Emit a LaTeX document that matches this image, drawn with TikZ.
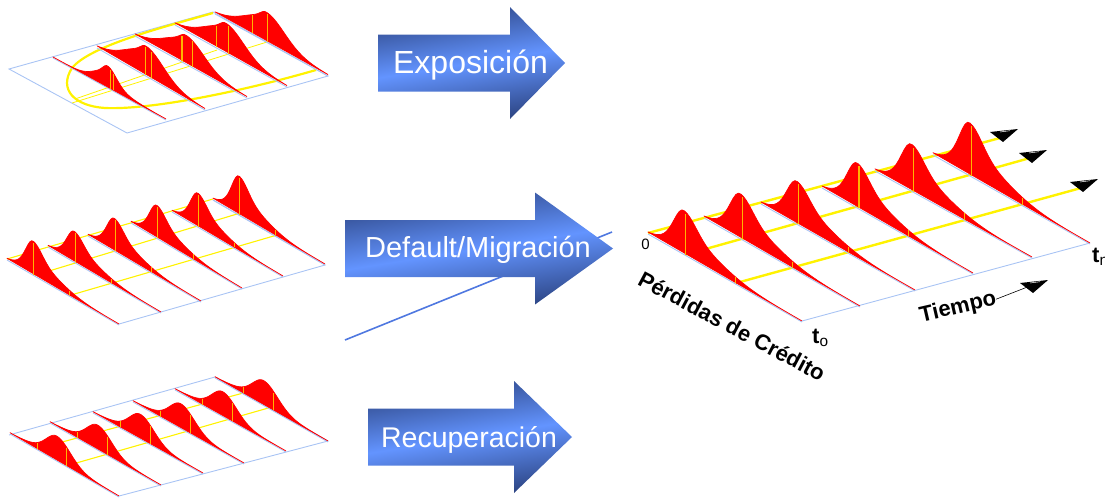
\documentclass[tikz,border=0pt]{standalone}
\usepackage{fontspec}
\setmainfont{Liberation Sans}
\usetikzlibrary{calc}

\definecolor{framecol}{HTML}{A9C4F4}
\definecolor{markcol}{HTML}{FFB400}
\definecolor{arrowdark}{HTML}{2C4482}
\definecolor{arrowlight}{HTML}{6394FF}
\definecolor{slashcol}{HTML}{4F78E0}

\tikzset
    { declare function=
        { gauss(\p,\m,\w)=exp(0-((\p-\m)/\w)*((\p-\m)/\w));
          narrowprof(\p)=(\p<0.23)*(0.65*gauss(\p,0.23,0.08)+0.35*gauss(\p,0.23,0.14))
                        +(\p>=0.23)*(0.5*gauss(\p,0.23,0.11)+0.5*gauss(\p,0.23,0.3));
          wideprof(\p)=(\p<0.45)*(0.2*gauss(\p,0.45,0.06)+0.8*gauss(\p,0.45,0.26))
                      +(\p>=0.45)*(0.8*gauss(\p,0.45,0.22)+0.2*gauss(\p,0.45,0.34));
          smallprof(\p)=(\p<0.48)*(0.3*gauss(\p,0.48,0.05)+0.7*gauss(\p,0.48,0.16))
                       +(\p>=0.48)*(0.8*gauss(\p,0.48,0.11)+0.2*gauss(\p,0.48,0.24));
          broadprof(\p)=(\p<0.43)*(0.75*gauss(\p,0.43,0.13)+0.25*gauss(\p,0.43,0.25))
                       +(\p>=0.43)*(0.9*gauss(\p,0.43,0.17)+0.1*gauss(\p,0.43,0.3));
        }
    , framelink/.style={draw=framecol, line width=0.9pt}
    , humpfill/.style={fill=red, draw=red, line width=0.7pt, line join=round}
    , humpmark/.style={draw=markcol, line width=1.1pt}
    , yellowlink/.style={draw=yellow, line width=1.1pt}
    , flowshade/.style={top color=arrowdark, bottom color=arrowdark, middle color=arrowlight, shading angle=9}
    , flowtext/.style={text=white, font=\fontsize{#1}{#1}\selectfont, inner sep=0pt, anchor=base}
    , axistext/.style={font=\bfseries\fontsize{22}{22}\selectfont, inner sep=0pt}
    }

% profile, start, end, height
\newcommand{\hump}[4]{%
    \draw[framelink] ([yshift=-1pt]#2) -- ([yshift=-1pt]#3);
    \filldraw[humpfill] let \p1=(#2), \p2=(#3) in
        plot[variable=\q, domain=0:1, samples=60]
        ({\x1+(\x2-\x1)*\q},{\y1+(\y2-\y1)*\q+#4*#1(\q)*1pt}) -- cycle;
}
% profile, start, end, height, position along the base
\newcommand{\humptick}[5]{%
    \draw[humpmark] ($(#2)!#5!(#3)$) -- ++(0,{-0.96*#4*#1(#5)});
}
% name, left end, neck, tip, middle height, text baseline, text, font size
\newcommand{\flowarrow}[8]{%
    \shade[flowshade] (#2,#5-28.5) -- (#3,#5-28.5) -- (#3,#5-56) -- (#4,#5)
        -- (#3,#5+56) -- (#3,#5+28.5) -- (#2,#5+28.5) -- cycle;
    \node[flowtext=#8] (#1) at ({(#2+#4)/2-1},#6) {#7};
}
% black head standing on a named point
\newcommand{\blackhead}[1]{%
    \fill[black] (#1) -- ++(-13,-10) -- ++(28,-3) -- cycle;
    \draw[white, line width=0.5pt] ($(#1)+(-3,-10)$) -- ++(10,-1.3);
}

\begin{document}
\begin{tikzpicture}
    [ x=1pt
    , y=-1pt
    ]
\useasboundingbox (0,0) rectangle (1105,498);

% upper left
\foreach \sx/\sy/\ex/\ey [count=\i] in
    {53/57/166/119, 97/47/205/109, 135/35/247/97, 175/24/287/86, 215/13/328/75}
{
    \coordinate (top\i s) at (\sx,\sy);
    \coordinate (top\i e) at (\ex,\ey);
}
\draw[framelink] (9,69) -- (213,12) -- (328,76) -- (127,133) -- cycle;
\draw[yellowlink, line width=2.2pt] (316,70) .. controls (240,92) and (150,110) .. (105,108)
    .. controls (75,106) and (58,90) .. (72,68)
    .. controls (90,46) and (160,28) .. (213,13);
\draw[yellowlink, line width=0.8pt] (72,103) -- (267,42);
\draw[yellowlink, line width=0.8pt] (75,99) -- (217,50);
\foreach \i/\h/\pa/\pb in {2/29/0.45/0.505, 3/28/0.42/0.51, 4/29/0.37/0.48, 5/29/0.33/0.465}
{
    \hump{wideprof}{top\i s}{top\i e}{\h}
    \humptick{wideprof}{top\i s}{top\i e}{\h}{\pa}
    \humptick{wideprof}{top\i s}{top\i e}{\h}{\pb}
}
\hump{smallprof}{top1s}{top1e}{21}
\humptick{smallprof}{top1s}{top1e}{21}{0.51}
\humptick{smallprof}{top1s}{top1e}{21}{0.535}

% middle left
\foreach \sx/\sy/\ex/\ey [count=\i] in
    {7/259/119/324, 48/246/161/312, 88/235/201/301, 131/222/242/288, 172/211/283/276, 213/199/325/264}
{
    \coordinate (mid\i s) at (\sx,\sy);
    \coordinate (mid\i e) at (\ex,\ey);
}
\draw[framelink] (mid1e) -- (325,265) -- (213,200);
\draw[yellowlink] (mid1s) -- (mid6s);
\draw[yellowlink] ($(mid1s)!0.25!(mid1e)$) -- ($(mid6s)!0.225!(mid6e)$);
\draw[yellowlink] ($(mid1s)!0.56!(mid1e)$) -- ($(mid6s)!0.56!(mid6e)$);
\foreach \i/\h in {1/33, 2/30, 3/32, 4/32, 5/33, 6/38}
{
    \hump{narrowprof}{mid\i s}{mid\i e}{\h}
    \humptick{narrowprof}{mid\i s}{mid\i e}{\h}{0.24}
    \humptick{narrowprof}{mid\i s}{mid\i e}{\h}{0.56}
}

% lower left
\foreach \sx/\sy/\ex/\ey [count=\i] in
    {10/433/119/496, 50/422/161/485, 93/412/203/473, 133/401/244/463, 175/389/286/451, 215/377/328/441}
{
    \coordinate (low\i s) at (\sx,\sy);
    \coordinate (low\i e) at (\ex,\ey);
}
\draw[framelink] (low1e) -- (328,441) -- (215,377) -- (9,435);
\draw[yellowlink] ($(low1s)!0.25!(low1e)$) -- ($(low6s)!0.25!(low6e)$);
\draw[yellowlink] ($(low1s)!0.52!(low1e)$) -- ($(low6s)!0.48!(low6e)$);
\foreach \i/\h in {1/24, 2/24, 3/24, 4/24, 5/24, 6/24}
{
    \hump{broadprof}{low\i s}{low\i e}{\h}
    \humptick{broadprof}{low\i s}{low\i e}{\h}{0.25}
    \humptick{broadprof}{low\i s}{low\i e}{\h}{0.52}
}

% arrows
\coordinate (slashstart) at (345,340);
\coordinate (slashend) at (612,232);
\draw[draw=slashcol, line width=1.6pt] (slashstart) -- (slashend);
\flowarrow{exposure}{378}{510}{565}{63}{73.5}{Exposición}{32}
\flowarrow{default}{345}{535}{613}{248.5}{257.5}{Default/Migración}{29}
\flowarrow{recovery}{368}{514}{572}{437}{447}{Recuperación}{28.5}

% right
\foreach \sx/\sy/\ex/\ey [count=\i] in
    {648/233/802/321, 704/217/860/306, 761/203/915/290, 822/187/973/273, 875/170/1032/257, 933/154/1090/243}
{
    \coordinate (big\i s) at (\sx,\sy);
    \coordinate (big\i e) at (\ex,\ey);
}
\coordinate (lineahead) at (1003,142);
\coordinate (linebhead) at (1032,163);
\coordinate (linechead) at (1083,192);
\draw[framelink] (big1e) -- (big6e);
\draw[yellowlink, line width=2.4pt] (big1s) -- ($(lineahead)+(-3,-4)$);
\draw[yellowlink, line width=2.4pt] ($(big1s)!0.245!(big1e)$) -- ($(linebhead)+(-2,-5)$);
\draw[yellowlink, line width=2.4pt] ($(big1s)!0.57!(big1e)$) -- ($(linechead)+(-2,-4)$);
\foreach \i/\h in {1/43, 2/44, 3/42, 4/44, 5/46, 6/52}
{
    \hump{narrowprof}{big\i s}{big\i e}{\h}
    \humptick{narrowprof}{big\i s}{big\i e}{\h}{0.245}
    \humptick{narrowprof}{big\i s}{big\i e}{\h}{0.57}
}
\blackhead{lineahead}
\blackhead{linebhead}
\blackhead{linechead}

\node[inner sep=0pt, font=\fontsize{15}{15}\selectfont] (zero) at (645.5,244.5) {0};
\node[axistext, rotate=-28] (losses) at (732,326) {Pérdidas de Crédito};
\node[axistext, rotate=13] (time) at (958,308) {Tiempo};
\coordinate (timehead) at (1033,293);
\draw[black, line width=0.6pt] (time.east) -- ($(timehead)+(-3,-7)$);
\blackhead{timehead}
\node[axistext, anchor=base west] (startlabel) at (812,343) {t\textsubscript{\normalfont o}};
\node[axistext, anchor=base west] (endlabel) at (1092,262) {t\textsubscript{\normalfont n}};
\end{tikzpicture}
\end{document}
